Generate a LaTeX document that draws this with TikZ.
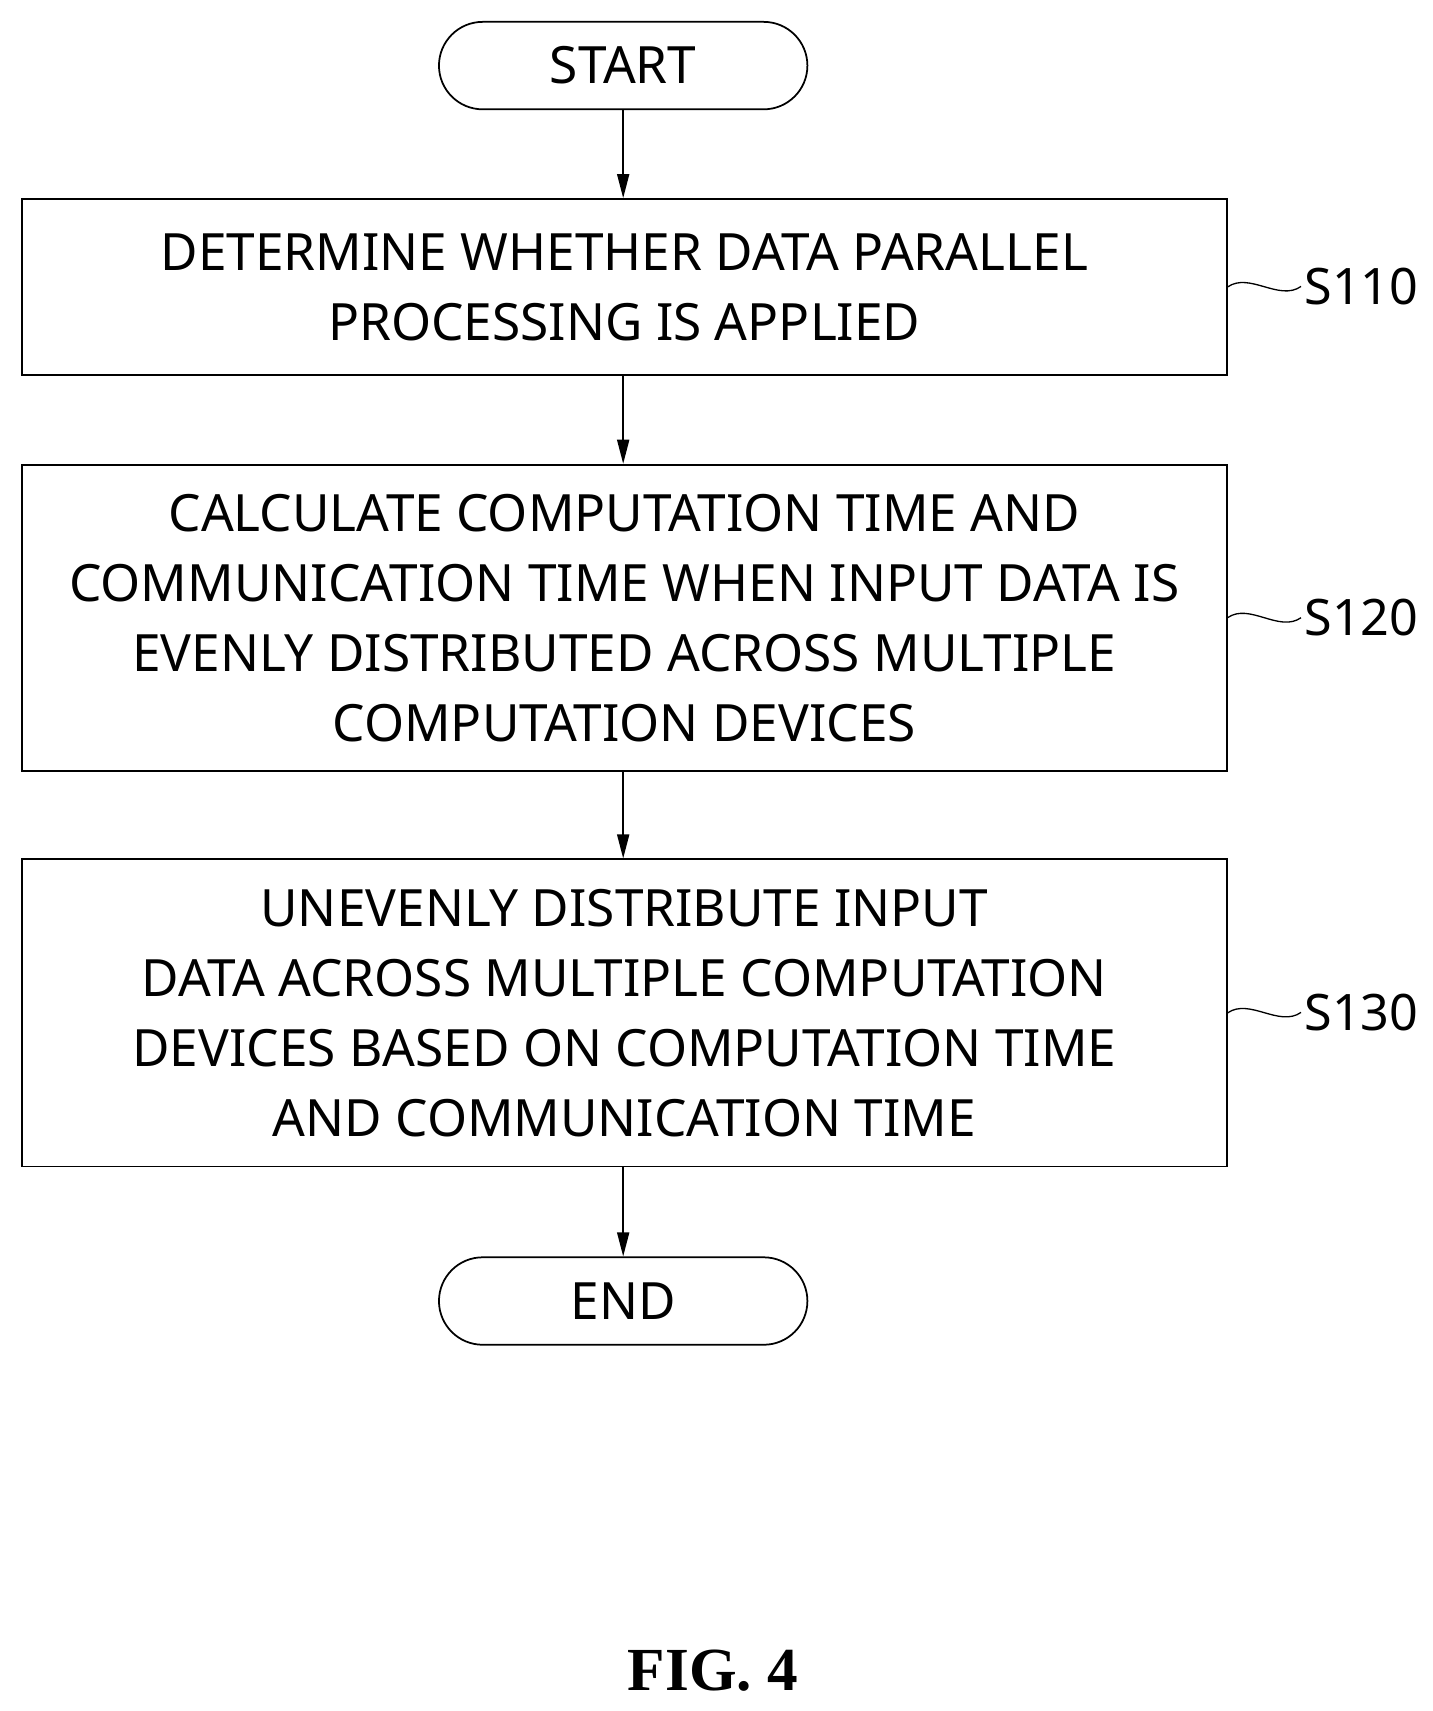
\documentclass[tikz,border=0pt]{standalone}
\usepackage{fontspec}
\setmainfont{Noto Sans}
\newfontfamily\figfont{Liberation Serif}
\usetikzlibrary{arrows.meta}
\begin{document}
\begin{tikzpicture}[x=1pt,y=-1pt,
  box/.style={draw,line width=1.6pt,minimum width=1102pt,align=center,font=\fontsize{47}{64}\selectfont,inner sep=0pt},
  term/.style={draw,line width=1.6pt,rounded corners=40pt,minimum width=337pt,minimum height=80pt,font=\fontsize{47}{52}\selectfont,inner sep=0pt},
  arr/.style={line width=1.6pt,-{Triangle[length=22pt,width=11pt]}},
  lab/.style={font=\fontsize{46}{52}\selectfont,anchor=west,inner sep=0pt},
  sq/.style={line width=1.2pt}]
\useasboundingbox (0,0) rectangle (1310,1565);
\node[term] (start) at (570,60) {START};
\node[box,minimum height=161pt] (b1) at (571,262.5) {DETERMINE WHETHER DATA PARALLEL\\PROCESSING IS APPLIED};
\node[box,minimum height=280pt] (b2) at (571,565) {CALCULATE COMPUTATION TIME AND\\COMMUNICATION TIME WHEN INPUT DATA IS\\EVENLY DISTRIBUTED ACROSS MULTIPLE\\COMPUTATION DEVICES};
\node[box,minimum height=281pt] (b3) at (571,926.5) {UNEVENLY DISTRIBUTE INPUT\\DATA ACROSS MULTIPLE COMPUTATION\\DEVICES BASED ON COMPUTATION TIME\\AND COMMUNICATION TIME};
\node[term] (end) at (570,1190) {END};
\draw[arr] (start) -- (start|-b1.north);
\draw[arr] (b1.south-|start) -- (start|-b2.north);
\draw[arr] (b2.south-|start) -- (start|-b3.north);
\draw[arr] (b3.south-|start) -- (end);
\foreach \n/\t/\y in {l1/S110/262, l2/S120/565, l3/S130/926} {
  \node[lab] (\n) at (1193,\y) {\t};
}
\foreach \b/\n in {b1/l1,b2/l2,b3/l3} {
  \draw[sq] (\b.east) .. controls +(20,-14) and +(-20,14) .. ([xshift=-3pt]\n.west);
}
\node[font=\figfont\bfseries\fontsize{56}{60}\selectfont] (fig) at (652,1528) {FIG. 4};
\end{tikzpicture}
\end{document}
